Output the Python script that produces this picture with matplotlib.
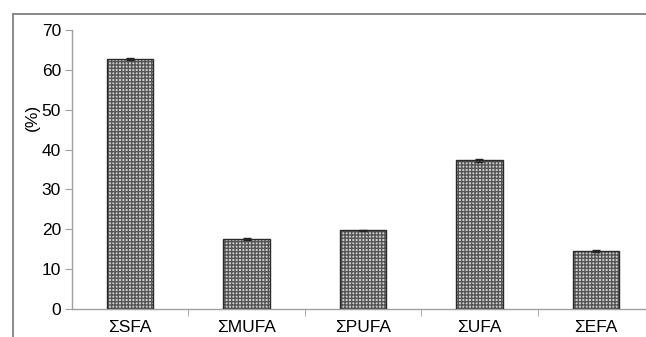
import matplotlib.pyplot as plt
from matplotlib.lines import Line2D

# fatty acid groups and their share (%)
groups = ["ΣSFA", "ΣMUFA", "ΣPUFA", "ΣUFA", "ΣEFA"]
values = [62.7, 17.5, 19.7, 37.3, 14.5]
errors = [0.3, 0.2, 0.2, 0.3, 0.2]

plt.rcParams["font.family"] = ["Liberation Sans", "DejaVu Sans"]
plt.rcParams["hatch.linewidth"] = 1.0

fig = plt.figure(figsize=(6.46, 3.37), dpi=100)
# plot area runs past the right edge of the figure
ax = fig.add_axes([72 / 646, 28 / 337, 582 / 646, 279 / 337])

x = range(len(groups))

# patterned fill, then the dark outline on top
ax.bar(x, values, width=0.4, facecolor="#d0d0d0", edgecolor="#555555",
       hatch="+++++", linewidth=0, zorder=2)
ax.bar(x, values, width=0.4, fill=False, edgecolor="#2a2a2a",
       linewidth=1.0, zorder=3)
ax.errorbar(x, values, yerr=errors, fmt="none", ecolor="#222222",
            elinewidth=1, capsize=3, capthick=1, zorder=4)

ax.set_xlim(-0.5, 4.5)
ax.set_ylim(0, 70)
ax.set_yticks(range(0, 71, 10))

# category labels centred, tick marks between categories
ax.set_xticks(list(x))
ax.set_xticklabels(groups, fontsize=12.5)
ax.tick_params(axis="x", which="major", length=0, pad=8)
ax.set_xticks([0.5, 1.5, 2.5, 3.5], minor=True)
ax.tick_params(axis="x", which="minor", length=5, color="#a0a0a0",
               direction="out")
ax.tick_params(axis="y", labelsize=12.5, length=5, color="#a0a0a0",
               direction="out", pad=3)

for side in ["top", "right"]:
    ax.spines[side].set_visible(False)
for side in ["left", "bottom"]:
    ax.spines[side].set_color("#a0a0a0")
    ax.spines[side].set_linewidth(1.0)

fig.text(32 / 646, 1 - 117 / 337, "(%)", rotation=90, fontsize=12.5,
         ha="center", va="center")

# chart frame, left and top edges
frame_color = "#808080"
fig.add_artist(Line2D([13 / 646, 13 / 646], [0, 1 - 14 / 337],
                      color=frame_color, linewidth=1.3))
fig.add_artist(Line2D([13 / 646, 1.0], [1 - 14 / 337, 1 - 14 / 337],
                      color=frame_color, linewidth=1.3))

fig.savefig("out.png", dpi=100)
